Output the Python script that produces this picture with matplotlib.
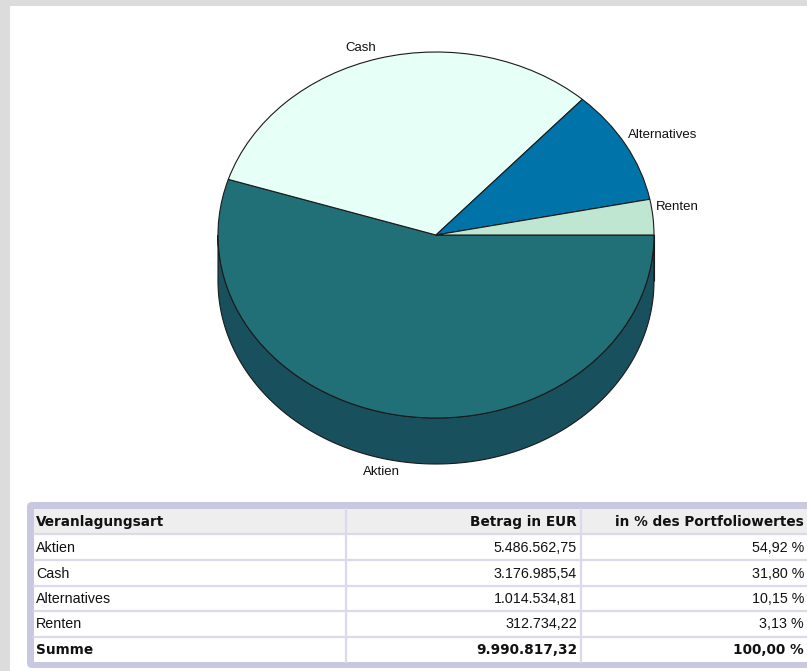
import numpy as np
import matplotlib
matplotlib.use("Agg")
import matplotlib.pyplot as plt
from matplotlib.patches import Rectangle, FancyBboxPatch, Polygon

# data
categories = ["Aktien", "Cash", "Alternatives", "Renten"]
amounts = [5486562.75, 3176985.54, 1014534.81, 312734.22]
percents = [54.92, 31.80, 10.15, 3.13]
header = ["Veranlagungsart", "Betrag in EUR", "in % des Portfoliowertes"]
total_label = "Summe"

colors = ["#217078", "#e6fff7", "#0073a8", "#bfe6d0"]


def de_num(v):
    s = f"{v:,.2f}"
    return s.replace(",", "X").replace(".", ",").replace("X", ".")


W, H = 807, 671
fig = plt.figure(figsize=(W / 100, H / 100), dpi=100)

# background / table axes in pixel units
bg = fig.add_axes([0, 0, 1, 1])
bg.set_xlim(0, W)
bg.set_ylim(H, 0)
bg.axis("off")
bg.add_patch(Rectangle((0, 0), W, H, facecolor="#dcdcdc", edgecolor="none"))
bg.add_patch(Rectangle((10, 6), W, H, facecolor="white", edgecolor="none"))

# pie axes: 1 unit = 218 px horizontally, 183 px vertically
cx, cy, rx, ry = 436, 235, 218, 183
depth = 46 / ry
ax = fig.add_axes([0, 0, 1, 1])
ax.patch.set_alpha(0)
wedges, _ = ax.pie(amounts, colors=colors, startangle=0, counterclock=False,
                   radius=1, center=(0, 0),
                   wedgeprops=dict(edgecolor="#1a1a1a", linewidth=0.8, zorder=3))
ax.set_aspect("auto")
ax.set_xlim(-cx / rx, (W - cx) / rx)
ax.set_ylim(-(H - cy) / ry, cy / ry)
ax.axis("off")

# 3d rim for the front part of the pie
for w, c in zip(wedges, colors):
    for shift in (-360, 0, 360):
        a = max(w.theta1 + shift, -180)
        b = min(w.theta2 + shift, 0)
        if b <= a:
            continue
        t = np.radians(np.linspace(a, b, 200))
        top = np.column_stack([np.cos(t), np.sin(t)])
        bot = np.column_stack([np.cos(t[::-1]), np.sin(t[::-1]) - depth])
        dark = np.array(matplotlib.colors.to_rgb(c)) * np.array([0.72, 0.71, 0.78])
        ax.add_patch(Polygon(np.vstack([top, bot]), closed=True, facecolor=dark,
                             edgecolor="#1a1a1a", linewidth=0.8, zorder=1))

# slice labels
for w, name in zip(wedges, categories):
    m = np.radians((w.theta1 + w.theta2) / 2)
    x, y = np.cos(m), np.sin(m)
    if y < 0:
        y -= depth
    ha = "left" if np.cos(m) >= 0 else "right"
    va = "bottom" if np.sin(m) >= 0 else "top"
    ax.annotate(name, (x, y), xytext=(2 * np.sign(np.cos(m)), 3 * np.sign(np.sin(m))),
                textcoords="offset points", ha=ha, va=va, fontsize=9.5,
                family="Liberation Sans", color="#111111")

# table
bg.add_patch(FancyBboxPatch((27, 502), 800, 166, boxstyle="round,pad=0,rounding_size=5",
                            facecolor="#c8c8e0", edgecolor="none"))
bg.add_patch(Rectangle((34, 509), 790, 153, facecolor="white", edgecolor="none"))
rows_y = [509, 534, 560, 586, 611, 637, 662]
bg.add_patch(Rectangle((34, 509), 790, rows_y[1] - rows_y[0], facecolor="#eeeeee",
                       edgecolor="none"))
for yy in rows_y[1:-1]:
    bg.plot([34, W], [yy, yy], color="#dadaea", lw=1.6)
for xx in (346, 581):
    bg.plot([xx, xx], [509, 662], color="#dadaea", lw=1.6)

col_x = [36, 577, 804]
col_ha = ["left", "right", "right"]
bold = dict(family="DejaVu Sans", fontweight="bold", fontsize=9.8, color="#111111")
reg = dict(family="Liberation Sans", fontsize=10.3, color="#111111")

ymid = lambda i: (rows_y[i] + rows_y[i + 1]) / 2 + 0.5
for j, h in enumerate(header):
    bg.text(col_x[j], ymid(0), h, ha=col_ha[j], va="center", **bold)
for i, name in enumerate(categories):
    cells = [name, de_num(amounts[i]), f"{percents[i]:.2f} %".replace(".", ",")]
    for j, s in enumerate(cells):
        bg.text(col_x[j], ymid(i + 1), s, ha=col_ha[j], va="center", **reg)
tot = [total_label, de_num(sum(amounts)), f"{sum(percents):.2f} %".replace(".", ",")]
for j, s in enumerate(tot):
    bg.text(col_x[j], ymid(len(categories) + 1), s, ha=col_ha[j], va="center", **bold)

fig.savefig("out.png", dpi=100)
